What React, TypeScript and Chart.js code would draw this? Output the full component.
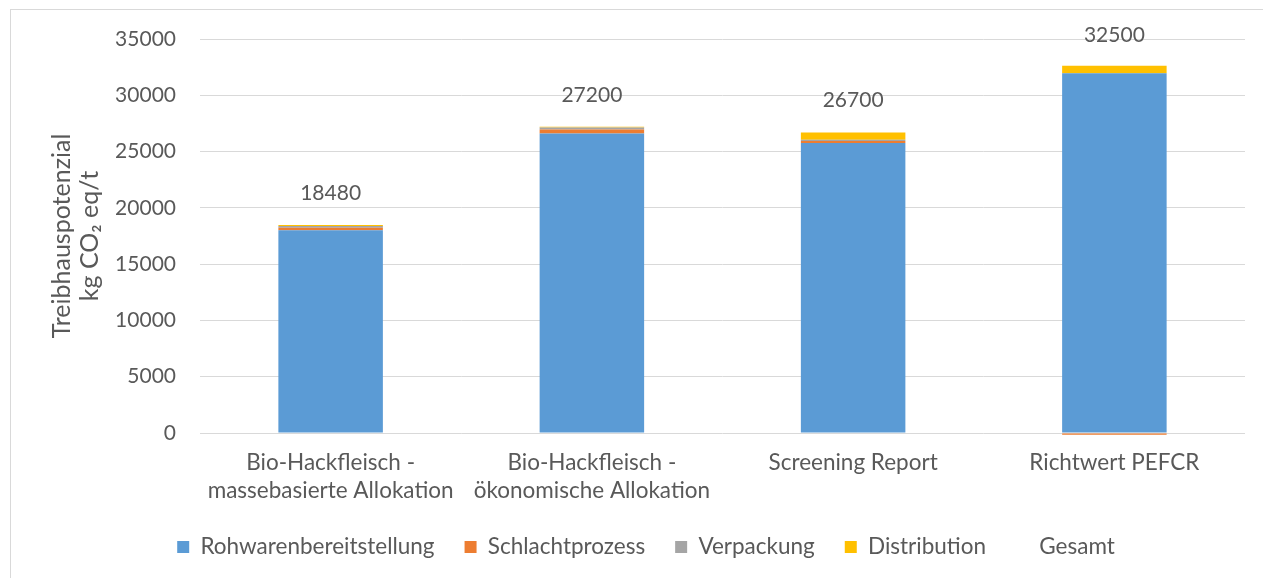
import React, { useEffect, useRef } from "react";
import { Chart, registerables } from "chart.js";

Chart.register(...registerables);

const categories: (string | string[])[] = [
  ["Bio-Hackfleisch -", "massebasierte Allokation"],
  ["Bio-Hackfleisch -", "ökonomische Allokation"],
  "Screening Report",
  "Richtwert PEFCR",
];
const rohwarenbereitstellung = [18000, 26600, 25760, 31950];
const schlachtprozess = [230, 350, 190, -150];
const verpackung = [150, 180, 100, 0];
const distribution = [100, 70, 650, 680];
const gesamt = [18480, 27200, 26700, 32500];
const yTicks = [0, 5000, 10000, 15000, 20000, 25000, 30000, 35000];

const FONT = "Lato";
const TEXT = "#595959";

const totalLabels = {
  id: "totalLabels",
  afterDatasetsDraw(chart: any) {
    const ds = chart.data.datasets.findIndex((d: any) => d.label === "Gesamt");
    if (ds < 0) return;
    const { ctx, scales } = chart;
    ctx.save();
    ctx.font = `21px ${FONT}`;
    ctx.fillStyle = TEXT;
    ctx.textAlign = "center";
    ctx.textBaseline = "middle";
    chart.data.datasets[ds].data.forEach((v: number, i: number) => {
      const x = scales.x.getPixelForValue(i);
      const y = scales.y.getPixelForValue(v) - 32;
      ctx.fillText(String(v), x, y);
    });
    ctx.restore();
  },
};

export default function App() {
  const ref = useRef<HTMLCanvasElement | null>(null);
  useEffect(() => {
    if (!ref.current) return;
    const chart = new Chart(ref.current, {
      type: "bar",
      data: {
        labels: categories as any,
        datasets: [
          { label: "Rohwarenbereitstellung", data: rohwarenbereitstellung, backgroundColor: "#5B9BD5", stack: "s" },
          { label: "Schlachtprozess", data: schlachtprozess, backgroundColor: "#ED7D31", stack: "s", clip: false as any },
          { label: "Verpackung", data: verpackung, backgroundColor: "#A5A5A5", stack: "s" },
          { label: "Distribution", data: distribution, backgroundColor: "#FFC000", stack: "s" },
          {
            type: "line" as any,
            label: "Gesamt",
            data: gesamt,
            stack: "gesamt",
            showLine: false,
            pointRadius: 0,
            pointHoverRadius: 0,
            backgroundColor: "rgba(0,0,0,0)",
            borderColor: "rgba(0,0,0,0)",
            borderWidth: 0,
          } as any,
        ],
      },
      options: {
        animation: false,
        responsive: false,
        maintainAspectRatio: false,
        layout: { padding: { left: 47, right: 18, top: 39, bottom: 9.75 } },
        datasets: { bar: { barPercentage: 0.4, categoryPercentage: 1 } } as any,
        plugins: {
          tooltip: { enabled: false },
          legend: {
            position: "bottom",
            labels: {
              boxWidth: 12,
              boxHeight: 12,
              padding: 30,
              color: TEXT,
              font: { family: FONT, size: 22.5 },
            },
          },
        },
        scales: {
          x: {
            stacked: true,
            grid: { display: false, drawTicks: false },
            border: { display: false },
            ticks: {
              color: TEXT,
              padding: 16,
              maxRotation: 0,
              autoSkip: false,
              font: { family: FONT, size: 22.5, lineHeight: 1.244 },
            },
            afterFit: (s: any) => {
              s.height = 72.75;
            },
          },
          y: {
            stacked: true,
            min: 0,
            max: 35000,
            afterBuildTicks: (s: any) => {
              s.ticks = yTicks.map((v) => ({ value: v }));
            },
            grid: { color: "#D9D9D9", lineWidth: 1, drawTicks: false },
            border: { display: false },
            ticks: {
              color: TEXT,
              padding: 24,
              font: { family: FONT, size: 21 },
              callback: (v: any) => String(v),
            },
            title: {
              display: true,
              text: ["Treibhauspotenzial", "kg CO\u2082 eq/t"],
              color: TEXT,
              padding: { top: 1.25, bottom: 0 },
              font: { family: FONT, size: 25, lineHeight: 1.1 },
            },
            afterFit: (s: any) => {
              s.width = 153;
            },
          },
        },
      },
      plugins: [totalLabels],
    });
    return () => chart.destroy();
  }, []);

  return (
    <div style={{ position: "fixed", left: 0, top: 0, width: 1263, height: 578, overflow: "hidden", background: "#fff" }}>
      <div
        style={{
          position: "absolute",
          left: 10,
          top: 9,
          width: 1400,
          height: 800,
          border: "1px solid #D9D9D9",
        }}
      />
      <canvas ref={ref} width={1263} height={578} style={{ position: "absolute", left: 0, top: 0, width: 1263, height: 578 }} />
    </div>
  );
}
